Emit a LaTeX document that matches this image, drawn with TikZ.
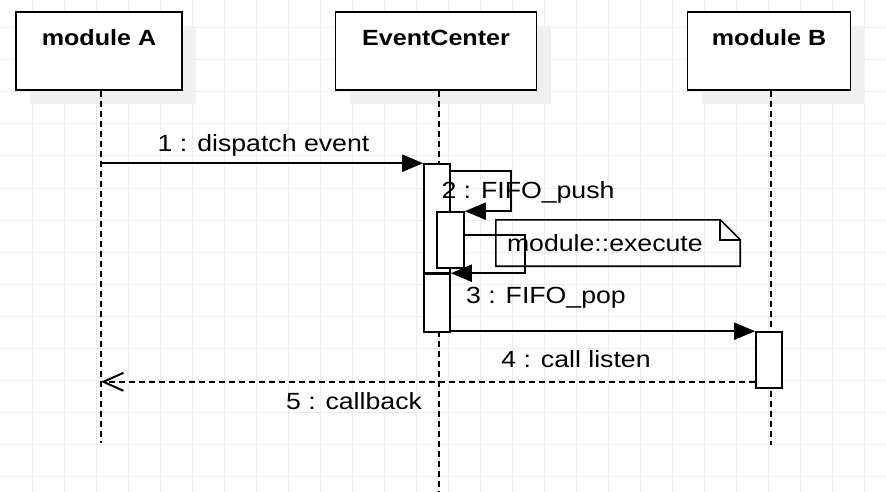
\documentclass[tikz,border=0pt]{standalone}
\usepackage{fontspec}
\newfontfamily\diagfont[FakeStretch=1.14]{Liberation Sans}
\usetikzlibrary{arrows.meta, shadows}
\definecolor{gridgray}{HTML}{EDEDED}
\definecolor{shadowgray}{HTML}{F0F0F0}

\begin{document}
\begin{tikzpicture}[
    x=1pt, y=-1pt,
    gridline/.style={draw=gridgray, line width=1pt},
    headbox/.style={rectangle, draw=black, fill=white, line width=1.6pt, minimum height=78pt, text height=16pt, text depth=26pt, font=\diagfont\fontsize{22}{26}\selectfont\bfseries, drop shadow={shadow xshift=14pt, shadow yshift=-14pt, fill=shadowgray, opacity=1}},
    actbar/.style={rectangle, draw=black, fill=white, line width=1.6pt, minimum width=26pt, inner sep=0pt},
    notebox/.style={rectangle, minimum height=46pt, text width=222pt, inner xsep=11pt, align=left, font=\diagfont\fontsize{23.4}{28}\selectfont},
    noteline/.style={draw=black, line width=1.6pt},
    msglbl/.style={font=\diagfont\fontsize{23.4}{28}\selectfont, inner sep=0pt, anchor=base},
    lifeline/.style={draw=black, line width=1.7pt, dash pattern=on 6pt off 4pt},
    msg/.style={draw=black, line width=2pt, -{Triangle[length=21pt, width=17pt]}},
    ret/.style={draw=black, line width=2pt, dash pattern=on 6pt off 4pt, -{Straight Barb[length=20pt, width=18pt]}}
]
    \useasboundingbox (0,0) rectangle (886,492);

    % Grid
    \foreach \gx in {32,64,...,864}
        \draw [gridline] (\gx,0) -- (\gx,492);
    \foreach \gy in {28,60,...,476}
        \draw [gridline] (0,\gy) -- (886,\gy);

    % Lifelines
    \node [headbox, minimum width=166pt] (modA) at (99, 51) {module A};
    \node [headbox, minimum width=201pt] (evCenter) at (436, 51) {EventCenter};
    \node [headbox, minimum width=163pt] (modB) at (769, 51) {module B};

    \coordinate (aEnd) at (101, 443);
    \coordinate (ecEnd) at (439, 492);
    \coordinate (bEnd) at (771, 445);

    \draw [lifeline] (aEnd |- modA.south) -- (aEnd);
    \draw [lifeline] (ecEnd |- evCenter.south) -- (ecEnd);
    \draw [lifeline] (bEnd |- modB.south) -- (bEnd);

    % Activations
    \node [actbar, minimum height=110pt] (ecAct1) at (437, 219) {};
    \node [actbar, minimum height=58pt] (ecAct2) at (437, 303) {};
    \draw [line width=3.2pt] (ecAct2.north west) -- (ecAct2.north east);
    \node [actbar, minimum width=27pt, minimum height=56pt] (ecAct3) at (450.5, 240) {};
    \node [actbar, minimum height=56pt] (bAct) at (769, 360) {};

    % Note
    \node [notebox] (note) at (618, 243) {module::execute};
    \draw [noteline] (note.north west) -- ([xshift=-20pt]note.north east) -- ([yshift=-20pt]note.north east) -- (note.south east) -- (note.south west) -- cycle;
    \draw [noteline] ([xshift=-20pt]note.north east) |- ([yshift=-20pt]note.north east);

    % Messages
    \draw [msg] (aEnd |- ecAct1.north) -- (ecAct1.north west);
    \draw [msg] ([yshift=-8pt]ecAct1.north east) -- ++(60,0) |- (ecAct3.north east);
    \draw [msg] ([yshift=-24pt]ecAct3.north east) -- ++(60,0) |- (ecAct2.north east);
    \draw [msg] (bAct.north west -| ecAct2.east) -- (bAct.north west);
    \draw [ret] ([yshift=7pt]bAct.south west) coordinate (retStart) -- (retStart -| aEnd);

    \node [msglbl] (lblDispatch) at (263.5, 151.5) {1 : dispatch event};
    \node [msglbl] (lblPush) at (528, 198) {2 : FIFO\_push};
    \node [msglbl] (lblPop) at (546, 303) {3 : FIFO\_pop};
    \node [msglbl] (lblListen) at (576, 367.5) {4 : call listen};
    \node [msglbl] (lblCallback) at (354, 409) {5 : callback};

\end{tikzpicture}
\end{document}
